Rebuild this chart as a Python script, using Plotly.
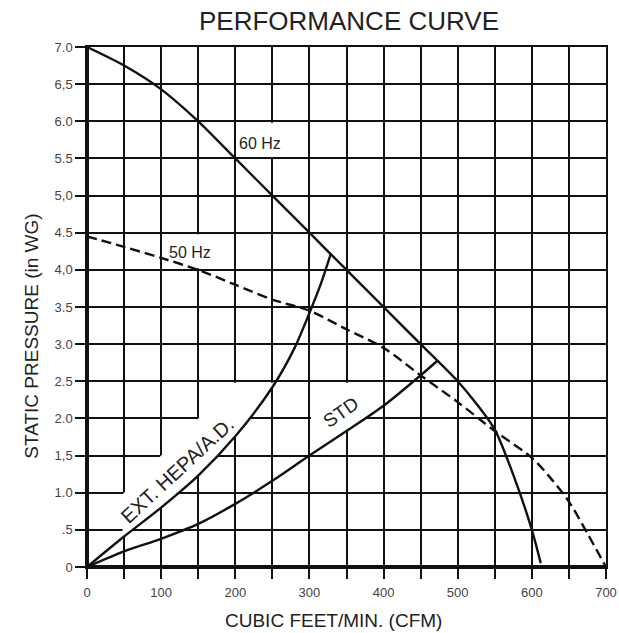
import plotly.graph_objects as go

# ---- data ----
hz60_x = [0, 50, 100, 150, 200, 250, 300, 350, 400, 450, 500, 525, 550, 575, 600, 612]
hz60_y = [7.0, 6.75, 6.43, 6.0, 5.5, 5.0, 4.5, 4.0, 3.5, 3.0, 2.5, 2.2, 1.85, 1.24, 0.5, 0.05]

hz50_x = [0, 50, 100, 150, 200, 250, 300, 350, 400, 450, 500, 550, 600, 625, 650, 675, 700]
hz50_y = [4.45, 4.31, 4.16, 4.0, 3.8, 3.6, 3.45, 3.2, 2.95, 2.58, 2.22, 1.83, 1.47, 1.2, 0.88, 0.45, 0.0]

hepa_x = [0, 50, 100, 150, 200, 250, 280, 300, 315, 329]
hepa_y = [0, 0.41, 0.80, 1.23, 1.76, 2.42, 2.95, 3.42, 3.80, 4.22]

std_x = [0, 50, 100, 150, 200, 250, 300, 350, 400, 450, 473]
std_y = [0, 0.21, 0.38, 0.58, 0.85, 1.16, 1.5, 1.83, 2.17, 2.58, 2.78]

x_tickvals = list(range(0, 701, 50))
x_ticktext = [str(v) if v % 100 == 0 else "" for v in x_tickvals]
y_tickvals = [i * 0.5 for i in range(15)]
y_ticktext = ["0", ".5", "1.0", "1,5", "2.0", "2.5", "3.0", "3.5", "4,0", "4.5", "5,0", "5.5", "6.0", "6,5", "7.0"]

FONT = "Liberation Sans, Arial, sans-serif"
INK = "#111111"


def interp(xs, ys, x):
    for i in range(len(xs) - 1):
        if xs[i] <= x <= xs[i + 1]:
            t = (x - xs[i]) / (xs[i + 1] - xs[i])
            return ys[i] + t * (ys[i + 1] - ys[i])
    return ys[-1]


def interp_inv(xs, ys, y):
    for i in range(len(ys) - 1):
        if ys[i] <= y <= ys[i + 1]:
            t = (y - ys[i]) / (ys[i + 1] - ys[i])
            return xs[i] + t * (xs[i + 1] - xs[i])
    return xs[-1]


def path_of(pts):
    return "M " + " L ".join(f"{x},{y}" for x, y in pts) + " Z"


ex, ey = 2.0, 0.02

# white label backgrounds hiding grid segments (as in the reference)
hepa_top = 2.5 - ey
hepa_pts = [(50 - ex, interp(hepa_x, hepa_y, 50 - ex)), (50 - ex, 1.0 - ey), (50 + ex, 1.0 + ey),
            (50 + ex, 1.5 - ey), (100 - ex, 1.5 - ey), (100 + ex, 1.5 + ey),
            (100 + ex, 2.0 - ey), (150 - ex, 2.0 - ey), (150 + ex, 2.0 + ey),
            (150 + ex, hepa_top), (interp_inv(hepa_x, hepa_y, hepa_top), hepa_top)]
for x, y in sorted(zip(hepa_x, hepa_y), reverse=True):
    if 50 - ex < x < interp_inv(hepa_x, hepa_y, hepa_top):
        hepa_pts.append((x, y))

std_pts = [(300 + ex, interp(std_x, std_y, 300 + ex)), (300 + ex, 2.5 - ey), (400 - ex, 2.5 - ey),
           (400 - ex, interp(std_x, std_y, 400 - ex))]
for x, y in sorted(zip(std_x, std_y), reverse=True):
    if 300 + ex < x < 400 - ex:
        std_pts.append((x, y))

shapes = [
    dict(type="path", path=path_of(hepa_pts), fillcolor="white", line=dict(width=0), layer="between"),
    dict(type="path", path=path_of(std_pts), fillcolor="white", line=dict(width=0), layer="between"),
    dict(type="rect", x0=100 + ex, x1=200 - ex, y0=4.0 + ey, y1=4.5 - ey, fillcolor="white",
         line=dict(width=0), layer="between"),
    dict(type="rect", x0=200 + ex, x1=300 - ex, y0=5.5 + ey, y1=6.0 - ey, fillcolor="white",
         line=dict(width=0), layer="between"),
    dict(type="line", x0=0, x1=0, y0=0, y1=7, line=dict(color=INK, width=4), layer="between"),
    dict(type="line", x0=0, x1=700, y0=0, y1=0, line=dict(color=INK, width=4), layer="between"),
]

fig = go.Figure()
line_style = dict(color=INK, width=2.4, shape="spline", smoothing=0.8)
fig.add_trace(go.Scatter(x=hz60_x, y=hz60_y, mode="lines", line=line_style, hoverinfo="skip"))
fig.add_trace(go.Scatter(x=hz50_x, y=hz50_y, mode="lines",
                         line=dict(color=INK, width=2.4, dash="10px,5px", shape="spline", smoothing=0.8),
                         hoverinfo="skip"))
fig.add_trace(go.Scatter(x=hepa_x, y=hepa_y, mode="lines", line=line_style, hoverinfo="skip"))
fig.add_trace(go.Scatter(x=std_x, y=std_y, mode="lines", line=line_style, hoverinfo="skip"))

annotations = [
    dict(text="PERFORMANCE CURVE", xref="paper", yref="paper", x=0.504, y=1.0506,
         xanchor="center", yanchor="middle", showarrow=False, font=dict(size=26, color="#222", family=FONT)),
    dict(text="STATIC PRESSURE (in WG)", xref="paper", yref="paper", x=-0.1063, y=0.4445, textangle=-90,
         xanchor="center", yanchor="middle", showarrow=False, font=dict(size=19, color="#222", family=FONT)),
    dict(text="CUBIC FEET/MIN. (CFM)", xref="paper", yref="paper", x=0.4749, y=-0.102,
         xanchor="center", yanchor="middle", showarrow=False, font=dict(size=19, color="#222", family=FONT)),
    dict(text="60 Hz", x=233, y=5.70, xanchor="center", yanchor="middle", showarrow=False,
         font=dict(size=16, color="#222", family=FONT)),
    dict(text="50 Hz", x=139, y=4.24, xanchor="center", yanchor="middle", showarrow=False,
         font=dict(size=16, color="#222", family=FONT)),
    dict(text="EXT. HEPA/A.D.", x=122, y=1.30, textangle=-42.7, xanchor="center", yanchor="middle",
         showarrow=False, font=dict(size=20, color="#222", family=FONT)),
    dict(text="STD", x=342, y=2.08, textangle=-35, xanchor="center", yanchor="middle",
         showarrow=False, font=dict(size=19, color="#222", family=FONT)),
]

fig.update_layout(
    width=619, height=633,
    margin=dict(l=87, r=13, t=47, b=66, autoexpand=False),
    paper_bgcolor="white", plot_bgcolor="white",
    showlegend=False,
    shapes=shapes,
    annotations=annotations,
    font=dict(family=FONT, color="#333"),
    xaxis=dict(range=[0, 700], tickmode="array", tickvals=x_tickvals, ticktext=x_ticktext,
               showgrid=True, gridcolor=INK, gridwidth=1.5, zeroline=False, automargin=False,
               showline=True, mirror=True, linecolor=INK, linewidth=1.5,
               ticks="outside", ticklen=10, tickwidth=1.5, tickcolor=INK, ticklabelstandoff=3,
               tickfont=dict(size=13, color="#444", family=FONT), fixedrange=True),
    yaxis=dict(range=[0, 7], tickmode="array", tickvals=y_tickvals, ticktext=y_ticktext,
               showgrid=True, gridcolor=INK, gridwidth=1.5, zeroline=False, automargin=False,
               showline=True, mirror=True, linecolor=INK, linewidth=1.5,
               ticks="outside", ticklen=10, tickwidth=1.5, tickcolor=INK,
               tickfont=dict(size=13, color="#444", family=FONT), fixedrange=True),
)

fig.write_html("out.html", config={"displayModeBar": False},
               post_script="document.body.style.margin='0';document.body.style.overflow='hidden';")
